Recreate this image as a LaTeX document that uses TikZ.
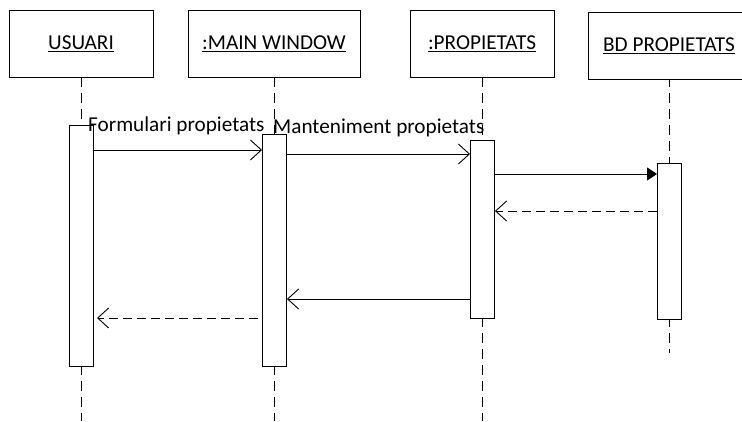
\documentclass[tikz,border=0pt]{standalone}
\usepackage{fontspec}
\setmainfont{Carlito}
\usetikzlibrary{arrows.meta,calc}
\begin{document}
\begin{tikzpicture}[x=1bp,y=-1bp,
  every node/.style={font=\fontsize{21.3}{25}\selectfont},
  objbox/.style={draw, line width=0.9bp, minimum height=67bp, inner sep=0pt},
  actbar/.style={draw, fill=white, line width=0.9bp, minimum width=24bp, inner sep=0pt, anchor=north},
  lifeline/.style={line width=0.9bp, dash pattern=on 10bp off 6bp},
  msg/.style={line width=0.9bp, -{Straight Barb[length=11bp,width=20bp]}},
  syncmsg/.style={line width=0.9bp, -{Triangle[length=10bp,width=13bp]}},
  retmsg/.style={line width=0.9bp, dash pattern=on 9bp off 5bp, -{Straight Barb[length=11bp,width=20bp]}},
  lbl/.style={anchor=base west, inner sep=0pt}
]
\useasboundingbox (0,0) rectangle (742,421);
% objects
\node[objbox, minimum width=144bp] (usuari) at (81,43.5) {\underline{USUARI}};
\node[objbox, minimum width=172bp] (main) at (274,43.5) {\underline{:MAIN WINDOW}};
\node[objbox, minimum width=144bp] (prop) at (482,43.5) {\underline{:PROPIETATS}};
\node[objbox, minimum width=162bp] (bd) at (669,45.5) {\underline{BD PROPIETATS}};
% lifeline ends
\coordinate (uend) at (81.5,421);
\coordinate (mend) at (274.5,421);
\coordinate (pend) at (482.5,421);
\coordinate (bend) at (669.5,353);
\draw[lifeline] (usuari.south -| uend) -- (uend);
\draw[lifeline] (main.south -| mend) -- (mend);
\draw[lifeline] (prop.south -| pend) -- (pend);
\draw[lifeline, dash phase=2bp] (bd.south -| bend) -- (bend);
% activation bars
\node[actbar, minimum height=241bp] (ubar) at (81.5,125) {};
\node[actbar, minimum height=232bp] (mbar) at (274.5,134) {};
\node[actbar, minimum height=178bp] (pbar) at (482.5,140) {};
\node[actbar, minimum height=156bp] (bbar) at (669.5,163) {};
% message rows
\coordinate (r1) at (0,150);
\coordinate (r2) at (0,154);
\coordinate (r3) at (0,174);
\coordinate (r4) at (0,211);
\coordinate (r5) at (0,299);
\coordinate (r6s) at (258,318);
\coordinate (r6e) at (97,318);
\draw[msg] (ubar.east |- r1) -- (mbar.west |- r1);
\draw[msg] (mbar.east |- r2) -- (pbar.west |- r2);
\draw[syncmsg] (pbar.east |- r3) -- (bbar.west |- r3);
\draw[retmsg] (bbar.west |- r4) -- (pbar.east |- r4);
\draw[msg] (pbar.west |- r5) -- (mbar.east |- r5);
\draw[retmsg] (r6s) -- (r6e);
% labels
\node[lbl] (l1) at (88,131) {Formulari propietats};
\node[lbl] (l2) at (273,133) {Manteniment propietats};
\end{tikzpicture}
\end{document}
